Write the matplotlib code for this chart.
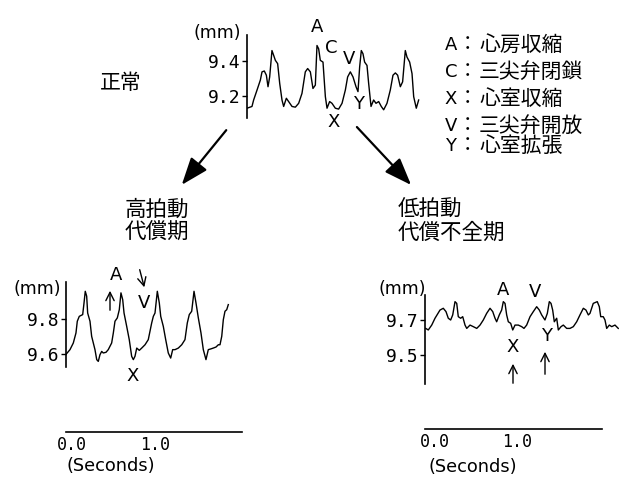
import matplotlib
matplotlib.use("Agg")
import matplotlib.pyplot as plt
from matplotlib.patches import FancyArrowPatch

W, H = 619, 483
JP = ["Noto Sans CJK JP", "DejaVu Sans"]
MONO = "DejaVu Sans Mono"

# ---- traces: time (s) / displacement (mm) ----
normal_t = [0.000, 0.063, 0.084, 0.127, 0.169, 0.190, 0.219, 0.245, 0.266, 0.287, 0.316, 0.338,
            0.359, 0.388, 0.414, 0.443, 0.464, 0.498, 0.527, 0.570, 0.612, 0.654, 0.696, 0.738,
            0.768, 0.802, 0.835, 0.865, 0.886, 0.907, 0.928, 0.962, 0.992, 1.013, 1.046, 1.076,
            1.118, 1.160, 1.203, 1.245, 1.274, 1.308, 1.342, 1.380, 1.405, 1.426, 1.447, 1.468,
            1.489, 1.519, 1.540, 1.570, 1.603, 1.633, 1.667, 1.700, 1.730, 1.772, 1.814, 1.848,
            1.878, 1.907, 1.941, 1.970, 2.004, 2.025, 2.059, 2.089, 2.110, 2.143, 2.173]
normal_mm = [9.130, 9.140, 9.177, 9.234, 9.291, 9.338, 9.343, 9.319, 9.253, 9.309, 9.460, 9.432,
             9.404, 9.385, 9.272, 9.177, 9.140, 9.187, 9.168, 9.140, 9.136, 9.158, 9.215, 9.338,
             9.357, 9.338, 9.243, 9.262, 9.489, 9.470, 9.404, 9.394, 9.196, 9.130, 9.168, 9.158,
             9.130, 9.125, 9.158, 9.234, 9.309, 9.338, 9.309, 9.253, 9.225, 9.366, 9.460, 9.442,
             9.394, 9.375, 9.272, 9.140, 9.177, 9.158, 9.168, 9.140, 9.121, 9.158, 9.234, 9.319,
             9.332, 9.319, 9.253, 9.281, 9.460, 9.423, 9.394, 9.328, 9.196, 9.130, 9.177]

high_t = [-0.076, -0.024, 0.016, 0.048, 0.064, 0.088, 0.129, 0.145, 0.160, 0.177, 0.189, 0.217,
          0.237, 0.277, 0.298, 0.317, 0.337, 0.358, 0.377, 0.410, 0.437, 0.478, 0.498, 0.518,
          0.546, 0.570, 0.590, 0.611, 0.627, 0.659, 0.690, 0.719, 0.739, 0.759, 0.780, 0.811,
          0.840, 0.880, 0.919, 0.960, 0.980, 1.000, 1.028, 1.052, 1.069, 1.100, 1.129, 1.160,
          1.189, 1.213, 1.241, 1.281, 1.322, 1.361, 1.389, 1.413, 1.442, 1.470, 1.494, 1.522,
          1.554, 1.582, 1.614, 1.642, 1.671, 1.702, 1.735, 1.763, 1.783, 1.804, 1.823, 1.843,
          1.864, 1.883]
high_mm = [9.596, 9.625, 9.663, 9.720, 9.787, 9.815, 9.825, 9.891, 9.958, 9.930, 9.834, 9.787,
           9.701, 9.625, 9.568, 9.558, 9.596, 9.615, 9.606, 9.610, 9.625, 9.663, 9.720, 9.787,
           9.806, 9.853, 9.949, 9.910, 9.834, 9.758, 9.682, 9.587, 9.568, 9.587, 9.634, 9.621,
           9.634, 9.653, 9.682, 9.777, 9.815, 9.834, 9.958, 9.891, 9.815, 9.758, 9.682, 9.606,
           9.577, 9.625, 9.625, 9.634, 9.653, 9.682, 9.777, 9.825, 9.844, 9.958, 9.891, 9.806,
           9.720, 9.625, 9.568, 9.625, 9.629, 9.634, 9.640, 9.653, 9.653, 9.701, 9.796, 9.844,
           9.853, 9.882]

low_t = [-0.113, -0.082, -0.040, 0.000, 0.061, 0.101, 0.134, 0.162, 0.191, 0.216, 0.244, 0.265,
         0.284, 0.313, 0.338, 0.366, 0.387, 0.427, 0.467, 0.509, 0.549, 0.589, 0.630, 0.671,
         0.704, 0.732, 0.752, 0.784, 0.813, 0.833, 0.854, 0.874, 0.894, 0.923, 0.948, 0.976,
         1.016, 1.057, 1.085, 1.118, 1.159, 1.199, 1.240, 1.272, 1.301, 1.341, 1.370, 1.394,
         1.415, 1.435, 1.455, 1.484, 1.504, 1.537, 1.565, 1.606, 1.646, 1.687, 1.728, 1.768,
         1.809, 1.841, 1.870, 1.890, 1.930, 1.979, 2.004, 2.021, 2.052, 2.073, 2.094, 2.126,
         2.155, 2.195, 2.235]
low_mm = [9.652, 9.643, 9.671, 9.710, 9.757, 9.767, 9.748, 9.710, 9.700, 9.729, 9.805, 9.795,
          9.719, 9.710, 9.719, 9.671, 9.652, 9.671, 9.662, 9.652, 9.671, 9.700, 9.738, 9.767,
          9.748, 9.710, 9.690, 9.729, 9.757, 9.805, 9.795, 9.729, 9.690, 9.681, 9.643, 9.671,
          9.671, 9.662, 9.652, 9.671, 9.719, 9.748, 9.776, 9.757, 9.729, 9.700, 9.738, 9.805,
          9.795, 9.757, 9.690, 9.710, 9.643, 9.662, 9.671, 9.652, 9.652, 9.662, 9.690, 9.729,
          9.767, 9.757, 9.729, 9.738, 9.795, 9.805, 9.776, 9.719, 9.719, 9.700, 9.652, 9.671,
          9.662, 9.671, 9.652]

normal_ticks = [9.2, 9.4]
high_ticks = [9.6, 9.8]
low_ticks = [9.5, 9.7]
time_ticks = [0.0, 1.0]
time_labels = ["0.0", "1.0"]

legend_keys = ["A", "C", "X", "V", "Y"]
legend_names = ["心房収縮", "三尖弁閉鎖", "心室収縮", "三尖弁開放", "心室拡張"]

fig = plt.figure(figsize=(W / 100, H / 100), dpi=100)
fig.patch.set_facecolor("white")


def P(x, y):
    # pixel position -> figure fraction
    return (x / W, 1 - y / H)


def panel(x0, x1, y0, y1, t, mm, xlim, ylim, yticks):
    ax = fig.add_axes([x0 / W, 1 - y1 / H, (x1 - x0) / W, (y1 - y0) / H])
    ax.patch.set_visible(False)
    ax.plot(t, mm, color="black", lw=1.0)
    ax.set_xlim(xlim)
    ax.set_ylim(ylim)
    for s in ["top", "right", "bottom"]:
        ax.spines[s].set_visible(False)
    ax.spines["left"].set_linewidth(1.2)
    ax.set_yticks(yticks)
    ax.set_yticklabels([f"{v:.1f}" for v in yticks], family=MONO, fontsize=13)
    ax.tick_params(axis="y", direction="out", length=3.5, width=1, pad=1)
    ax.set_xticks([])
    return ax


def time_scale(ax, outward, bounds):
    sp = ax.spines["bottom"]
    sp.set_visible(True)
    sp.set_position(("outward", outward))
    sp.set_bounds(*bounds)
    sp.set_linewidth(1.2)
    ax.set_xticks(time_ticks)
    ax.set_xticklabels(time_labels, family=MONO, fontsize=12)
    ax.tick_params(axis="x", length=0, pad=3)


# normal
ax_n = panel(247, 420, 35, 118, normal_t, normal_mm, (0, 2.19), (9.074, 9.549), normal_ticks)
# high rate, compensated
ax_h = panel(66, 242, 282, 367, high_t, high_mm, (-0.072, 2.048), (9.526, 10.011), high_ticks)
time_scale(ax_h, 46.8, (-0.072, 2.048))
# low rate, decompensated
ax_l = panel(425, 619, 295, 384, low_t, low_mm, (-0.122, 2.244), (9.334, 9.843), low_ticks)
time_scale(ax_l, 32.4, (-0.122, 2.037))

# unit labels
for x, y in [(217, 33), (37, 289), (402, 289)]:
    fig.text(*P(x, y), "(mm)", ha="center", va="center", fontsize=12.5)
fig.text(*P(111, 466), "(Seconds)", ha="center", va="center", fontsize=12.8)
fig.text(*P(473, 467), "(Seconds)", ha="center", va="center", fontsize=12.8)

# wave letters
letters = [
    ("A", 317, 27), ("C", 331, 48), ("V", 349, 59), ("Y", 359, 104), ("X", 334, 122),
    ("A", 116, 275), ("V", 144, 303), ("X", 133, 376),
    ("A", 503, 290), ("V", 535, 292), ("X", 513, 347), ("Y", 547, 336),
]
for s, x, y in letters:
    fig.text(*P(x, y), s, ha="center", va="center", fontsize=13)

# state labels
fig.text(*P(100, 83), "正常", ha="left", va="center", fontsize=15, family=JP)
fig.text(*P(125, 210), "高拍動", ha="left", va="center", fontsize=15.5, family=JP)
fig.text(*P(125, 233), "代償期", ha="left", va="center", fontsize=15.5, family=JP)
fig.text(*P(398, 210), "低拍動", ha="left", va="center", fontsize=15.5, family=JP)
fig.text(*P(398, 233), "代償不全期", ha="left", va="center", fontsize=15.5, family=JP)

# legend
legend_y = [45, 72, 99, 126, 146]
for k, name, y in zip(legend_keys, legend_names, legend_y):
    fig.text(*P(451, y), k, ha="center", va="center", fontsize=13)
    fig.text(*P(468, y), "：", ha="center", va="center", fontsize=14, family=JP)
    fig.text(*P(479, y), name, ha="left", va="center", fontsize=15, family=JP)


def arrow(x1, y1, x2, y2, big=True):
    if big:
        style, ms, lw = "-|>,head_length=1.2,head_width=0.45", 14, 1.6
    else:
        style, ms, lw = "->,head_length=0.5,head_width=0.25", 12, 1.0
    a = FancyArrowPatch(P(x1, y1), P(x2, y2), transform=fig.transFigure,
                        arrowstyle=style, mutation_scale=ms, lw=lw, color="black")
    fig.patches.append(a)


arrow(228, 128, 180, 187)
arrow(355, 125, 413, 187)
arrow(110, 313, 110, 288, big=False)
arrow(139, 267, 145, 290, big=False)
arrow(513, 386, 513, 361, big=False)
arrow(545, 377, 545, 349, big=False)

fig.savefig("out.png", dpi=100, facecolor="white")
